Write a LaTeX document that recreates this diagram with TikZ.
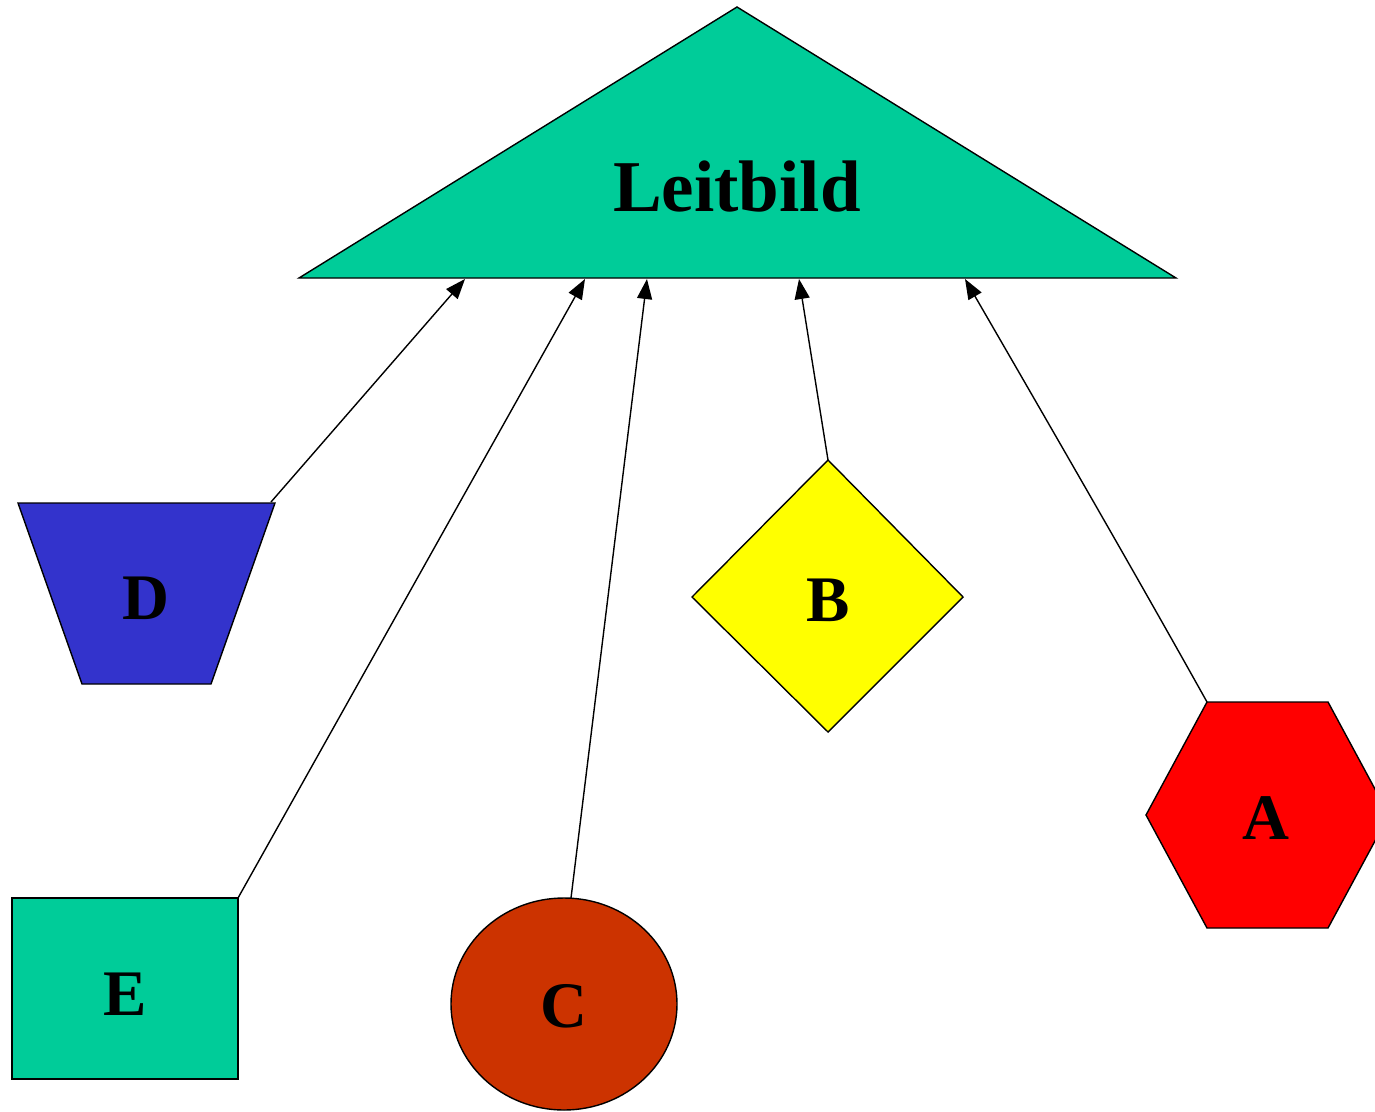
\documentclass[tikz,border=0pt]{standalone}
\usepackage{fontspec}
\setmainfont{Liberation Serif}
\usetikzlibrary{arrows.meta}
\definecolor{teal1}{HTML}{00CC99}
\definecolor{blue1}{HTML}{3333CC}
\definecolor{red1}{HTML}{FF0000}
\definecolor{yellow1}{HTML}{FFFF00}
\definecolor{brown1}{HTML}{CC3300}
\tikzset{
  shapeline/.style={draw=black, line width=1.4pt, line join=miter},
  lbl/.style={font=\bfseries\fontsize{65}{70}\selectfont, inner sep=0pt},
  biglbl/.style={font=\bfseries\fontsize{73}{78}\selectfont, inner sep=0pt},
  edge/.style={draw=black, line width=1.4pt, -{Triangle[length=20pt,width=15pt]}}
}
\begin{document}
\begin{tikzpicture}[x=1pt,y=-1pt]
\useasboundingbox (0,0) rectangle (1375,1111);
% Leitbild triangle
\filldraw[shapeline, fill=teal1] (737,7) -- (1176,278) -- (299,278) -- cycle;
\node[biglbl] (L) at (737,187) {Leitbild};
% D trapezium
\filldraw[shapeline, fill=blue1] (18,503) -- (275,503) -- (211,684) -- (82,684) -- cycle;
\node[lbl] (D) at (146,598) {D};
% B diamond
\filldraw[shapeline, fill=yellow1] (828,460) -- (963,597) -- (828,732) -- (692,597) -- cycle;
\node[lbl] (B) at (828,600) {B};
% A hexagon
\filldraw[shapeline, fill=red1] (1207,702) -- (1328,702) -- (1389,815) -- (1328,928) -- (1207,928) -- (1146,815) -- cycle;
\node[lbl] (A) at (1266,818) {A};
% E square
\filldraw[shapeline, fill=teal1] (12,898) rectangle (238,1079);
\node[lbl] (E) at (125,994) {E};
% C ellipse
\filldraw[shapeline, fill=brown1] (564,1004) ellipse [x radius=113, y radius=106];
\node[lbl] (C) at (564,1006) {C};
% connector end points
\coordinate (Ds) at (271,502);
\coordinate (Es) at (238,898);
\coordinate (Cs) at (571,898);
\coordinate (Bs) at (828,460);
\coordinate (As) at (1207,702);
\coordinate (Dt) at (465,279);
\coordinate (Et) at (585,279);
\coordinate (Ct) at (647,279);
\coordinate (Bt) at (799,279);
\coordinate (At) at (965,279);
\draw[edge] (Ds) -- (Dt);
\draw[edge] (Es) -- (Et);
\draw[edge] (Cs) -- (Ct);
\draw[edge] (Bs) -- (Bt);
\draw[edge] (As) .. controls (1150,600) and (1090,495) .. (At);
\end{tikzpicture}
\end{document}
